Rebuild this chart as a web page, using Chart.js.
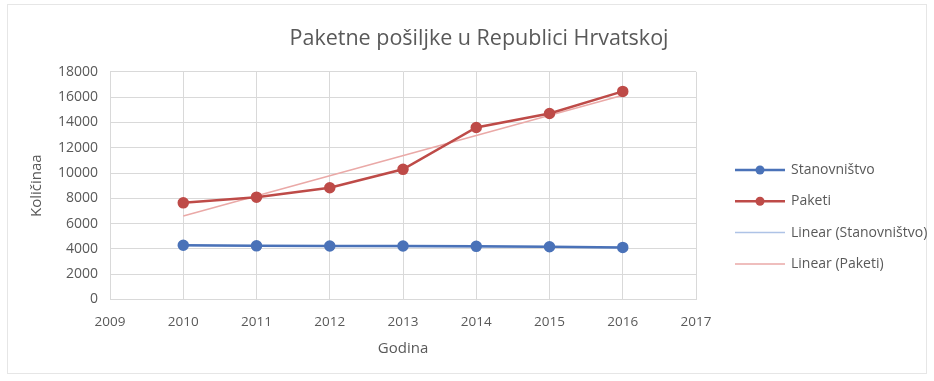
<!DOCTYPE html>
<html>
<head>
<meta charset="utf-8">
<script src="https://cdn.jsdelivr.net/npm/chart.js@4"></script>
<style>
  body { margin: 0; background: #fff; }
  #frame { position: absolute; left: 7px; top: 4px; width: 918px; height: 368px; border: 1px solid #e6e6e6; }
  #wrap { position: absolute; left: 0; top: 0; width: 934px; height: 381px; }
</style>
</head>
<body>
<div id="frame"></div>
<div id="wrap"><canvas id="chart"></canvas></div>
<script>
// Data
const years = [2010, 2011, 2012, 2013, 2014, 2015, 2016];
const stanovnistvo = [4290, 4240, 4230, 4225, 4200, 4170, 4120];
const paketi = [7640, 8090, 8830, 10290, 13600, 14700, 16450];
// trend line end points (2010 and 2016)
const trendYears = [2010, 2016];
const trendStanovnistvo = [4270, 4110];
const trendPaketi = [6600, 16150];

const blue = "#4a72b8";
const red = "#be4b48";
const lightBlue = "#aec3e6";
const lightRed = "#eaa9a7";

function pts(xs, ys) {
  return xs.map((x, i) => ({ x: x, y: ys[i] }));
}

const font = "'Open Sans', 'Liberation Sans', sans-serif";
const grey = "#595959";

// legend drawn by hand on the right (the built-in one is capped in width)
const sideLegend = {
  id: "sideLegend",
  afterDraw(chart) {
    const ctx = chart.ctx;
    const x0 = chart.chartArea.right + 39;
    chart.data.datasets.forEach((ds, i) => {
      const y = 170 + i * 31.3;
      ctx.save();
      ctx.strokeStyle = ds.borderColor;
      ctx.lineWidth = ds.borderWidth;
      ctx.beginPath();
      ctx.moveTo(x0, y);
      ctx.lineTo(x0 + 50, y);
      ctx.stroke();
      if (ds.pointRadius > 0) {
        ctx.fillStyle = ds.borderColor;
        ctx.beginPath();
        ctx.arc(x0 + 25, y, 4.5, 0, Math.PI * 2);
        ctx.fill();
      }
      ctx.fillStyle = grey;
      ctx.font = "14px " + font;
      ctx.textBaseline = "middle";
      ctx.fillText(ds.label, x0 + 56, y);
      ctx.restore();
    });
  },
};

new Chart(document.getElementById("chart"), {
  type: "line",
  data: {
    datasets: [
      {
        label: "Stanovništvo",
        data: pts(years, stanovnistvo),
        borderColor: blue,
        backgroundColor: blue,
        borderWidth: 2.5,
        pointRadius: 4.5,
      },
      {
        label: "Paketi",
        data: pts(years, paketi),
        borderColor: red,
        backgroundColor: red,
        borderWidth: 2.5,
        pointRadius: 4.5,
      },
      {
        label: "Linear (Stanovništvo)",
        data: pts(trendYears, trendStanovnistvo),
        borderColor: lightBlue,
        borderWidth: 1.5,
        pointRadius: 0,
      },
      {
        label: "Linear (Paketi)",
        data: pts(trendYears, trendPaketi),
        borderColor: lightRed,
        borderWidth: 1.5,
        pointRadius: 0,
      },
    ],
  },
  plugins: [sideLegend],
  options: {
    responsive: true,
    maintainAspectRatio: false,
    animation: false,
    layout: { padding: { left: 24, right: 0, top: 10, bottom: 21 } },
    plugins: {
      title: {
        display: true,
        text: "Paketne pošiljke u Republici Hrvatskoj",
        color: grey,
        font: { family: font, size: 21.5, weight: "normal" },
        padding: { top: 16, bottom: 20 },
      },
      legend: { display: false },
      tooltip: { enabled: false },
    },
    scales: {
      x: {
        type: "linear",
        min: 2009,
        max: 2017,
        ticks: {
          stepSize: 1,
          color: grey,
          font: { family: font, size: 13.5, lineHeight: 1 },
          callback: (v) => String(v),
          padding: 16,
        },
        grid: { color: "#d9d9d9", drawTicks: false },
        border: { color: "#d9d9d9" },
        title: {
          display: true,
          text: "Godina",
          color: grey,
          font: { family: font, size: 15, lineHeight: 1 },
          padding: { top: -4, bottom: 4 },
        },
      },
      y: {
        min: 0,
        max: 18000,
        ticks: {
          stepSize: 2000,
          color: grey,
          font: { family: font, size: 14 },
          padding: 12,
          callback: (v) => String(v),
        },
        grid: { color: "#d9d9d9", drawTicks: false },
        border: { color: "#d9d9d9" },
        title: {
          display: true,
          text: "Količinaa",
          color: grey,
          font: { family: font, size: 15 },
          padding: { bottom: 0 },
        },
      },
      // empty right axis that only reserves room for the legend
      legendSpace: {
        position: "right",
        grid: { display: false },
        border: { display: false },
        ticks: { display: false },
        afterFit: (scale) => {
          scale.width = 238;
        },
      },
    },
  },
});
</script>
</body>
</html>
